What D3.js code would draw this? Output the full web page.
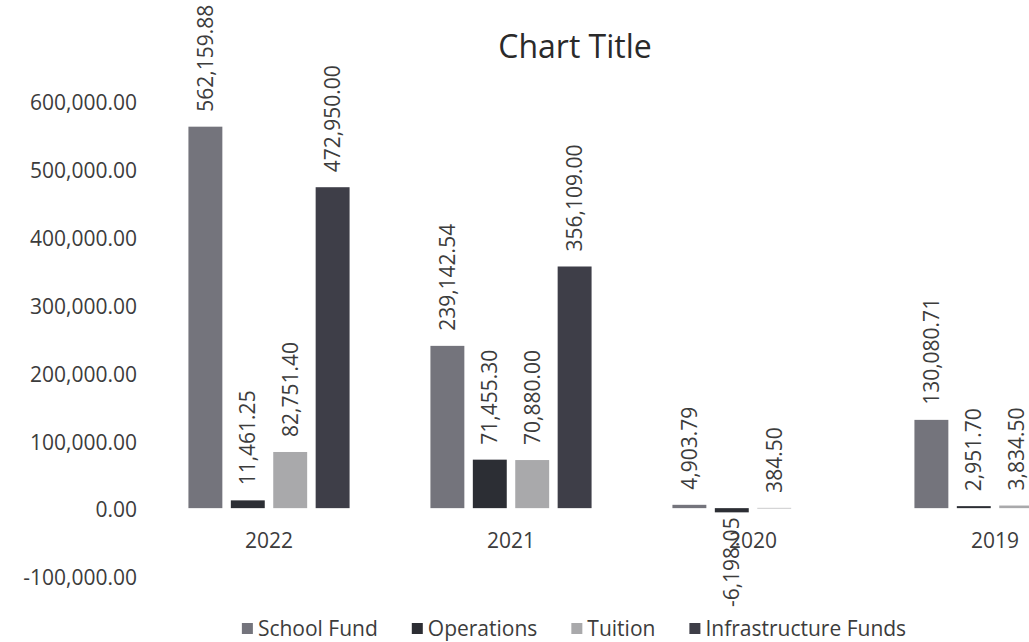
<!DOCTYPE html>
<html>
<head>
<meta charset="utf-8">
<script src="https://cdn.jsdelivr.net/npm/d3@7"></script>
<style>
  html, body { margin: 0; padding: 0; background: #ffffff; }
  svg { display: block; font-family: "Open Sans", "DejaVu Sans", sans-serif; }
</style>
</head>
<body>
<svg id="chart" width="1029" height="642"></svg>
<script>
// Fund balances by year
const years = ["2022", "2021", "2020", "2019"];
const seriesNames = ["School Fund", "Operations", "Tuition", "Infrastructure Funds"];
const schoolFund = [562159.88, 239142.54, 4903.79, 130080.71];
const operations = [11461.25, 71455.30, -6198.05, 2951.70];
const tuition = [82751.40, 70880.00, 384.50, 3834.50];
const infrastructureFunds = [472950.00, 356109.00, null, null];
const yTicks = [-100000, 0, 100000, 200000, 300000, 400000, 500000, 600000];

const seriesValues = [schoolFund, operations, tuition, infrastructureFunds];
const colors = ["#74747c", "#2c2e34", "#a9a9ab", "#3e3e48"];

const svg = d3.select("#chart");
const textColor = "#3c3c3c";
const fontSize = 21;

const x0 = d3.scaleBand().domain(years).range([148, 1116]).paddingInner(0.264).paddingOuter(0.132);
const x1 = d3.scaleBand().domain(seriesNames).range([0, x0.bandwidth()]).padding(0.2);
const y = d3.scaleLinear().domain([-100000, 600000]).range([576, 101]);

// Number format with a plain hyphen for negatives
const fmt = d3.formatLocale({ decimal: ".", thousands: ",", grouping: [3], currency: ["", ""], minus: "-" }).format(",.2f");

// Title
svg.append("text")
  .attr("x", 575).attr("y", 58)
  .attr("text-anchor", "middle")
  .attr("font-size", 32)
  .attr("fill", "#2a2a2a")
  .text("Chart Title");

// Value axis labels (no axis line or gridlines)
const yAxis = d3.axisLeft(y).tickValues(yTicks).tickFormat(fmt).tickSize(0).tickPadding(0);
const yg = svg.append("g").attr("transform", "translate(137,2)").call(yAxis);
yg.select(".domain").remove();
yg.selectAll("text").attr("font-size", fontSize).attr("fill", textColor).attr("font-family", "Open Sans");

// Category labels
const xAxis = d3.axisBottom(x0).tickSize(0).tickPadding(0);
const xg = svg.append("g").attr("transform", "translate(0,533)").call(xAxis);
xg.select(".domain").remove();
xg.selectAll("text").attr("font-size", fontSize).attr("fill", textColor).attr("font-family", "Open Sans");

// Bars
const rows = [];
years.forEach((yr, i) => {
  seriesNames.forEach((s, j) => {
    const v = seriesValues[j][i];
    if (v !== null && v !== undefined) rows.push({ year: yr, series: s, idx: j, value: v });
  });
});

svg.append("g").selectAll("rect")
  .data(rows)
  .join("rect")
  .attr("x", d => x0(d.year) + x1(d.series))
  .attr("width", x1.bandwidth())
  .attr("y", d => y(Math.max(0, d.value)))
  .attr("height", d => Math.max(0.6, Math.abs(y(d.value) - y(0))))
  .attr("fill", d => colors[d.idx]);

// Rotated value labels
svg.append("g").selectAll("text")
  .data(rows)
  .join("text")
  .attr("transform", d => {
    const cx = x0(d.year) + x1(d.series) + x1.bandwidth() / 2;
    const cy = d.value >= 0 ? y(d.value) - 15 : y(d.value) + 5;
    return `translate(${cx},${cy}) rotate(-90)`;
  })
  .attr("text-anchor", d => d.value >= 0 ? "start" : "end")
  .attr("dy", "0.35em")
  .attr("font-size", fontSize)
  .attr("fill", textColor)
  .text(d => fmt(d.value));

// Legend
const legend = svg.append("g").attr("transform", "translate(0,629)");
const items = legend.selectAll("g").data(seriesNames).join("g");
items.append("rect")
  .attr("width", 11).attr("height", 11).attr("y", -6)
  .attr("fill", (d, i) => colors[i]);
items.append("text")
  .attr("x", 16).attr("dy", "0.35em")
  .attr("font-size", fontSize)
  .attr("fill", textColor)
  .text(d => d);

const widths = [];
items.each(function () {
  widths.push(16 + this.querySelector("text").getComputedTextLength());
});
const gap = 34;
const total = d3.sum(widths) + gap * (widths.length - 1);
let offset = 574 - total / 2;
items.attr("transform", (d, i) => {
  const t = `translate(${offset},0)`;
  offset += widths[i] + gap;
  return t;
});
</script>
</body>
</html>
